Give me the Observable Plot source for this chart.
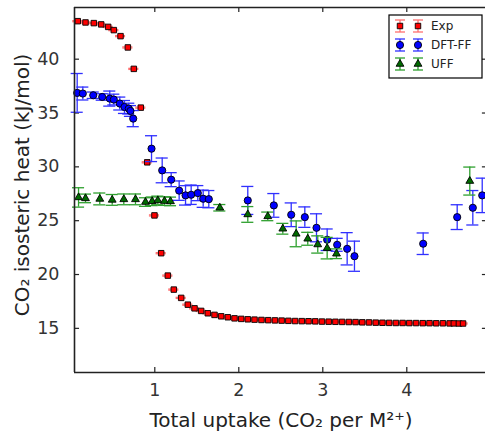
<!DOCTYPE html>
<html>
<head>
<meta charset="utf-8">
<script src="https://cdn.jsdelivr.net/npm/d3@7"></script>
<script src="https://cdn.jsdelivr.net/npm/@observablehq/plot@0.6"></script>
<style>
  html, body { margin: 0; padding: 0; background: #fff; }
  #chart svg { display: block; }
</style>
</head>
<body>
<div id="chart"></div>
<script>
// Experimental isosteric heat (red squares)
const expX = [0.083, 0.175, 0.274, 0.362, 0.445, 0.512, 0.592, 0.679, 0.750, 0.833,
  0.910, 0.996, 1.076, 1.155, 1.226, 1.314, 1.393, 1.473, 1.552, 1.631,
  1.711, 1.790, 1.869, 1.949, 2.029, 2.107, 2.187, 2.27, 2.35, 2.43,
  2.51, 2.59, 2.67, 2.75, 2.83, 2.91, 2.99, 3.07, 3.15, 3.23,
  3.31, 3.39, 3.47, 3.55, 3.63, 3.71, 3.79, 3.87, 3.95, 4.03,
  4.11, 4.19, 4.27, 4.35, 4.43, 4.51, 4.56, 4.62, 4.67];
const expY = [43.53, 43.41, 43.35, 43.23, 43.00, 42.70, 42.14, 41.09, 39.10, 35.50,
  30.42, 25.49, 21.98, 19.90, 18.60, 17.83, 17.20, 16.86, 16.62, 16.40,
  16.25, 16.12, 16.03, 15.93, 15.88, 15.84, 15.81, 15.78, 15.76, 15.74,
  15.72, 15.70, 15.68, 15.67, 15.66, 15.65, 15.63, 15.62, 15.61, 15.60,
  15.59, 15.58, 15.56, 15.55, 15.53, 15.52, 15.51, 15.50, 15.50, 15.49,
  15.49, 15.48, 15.48, 15.47, 15.47, 15.46, 15.46, 15.45, 15.45];
const expErr = 0.05;

// DFT-FF simulation (blue circles)
const dftX = [0.076, 0.143, 0.267, 0.374, 0.464, 0.512, 0.583, 0.639, 0.690, 0.710,
  0.743, 0.961, 1.088, 1.195, 1.290, 1.366, 1.433, 1.512, 1.576, 1.643,
  2.107, 2.417, 2.624, 2.786, 2.925, 3.052, 3.171, 3.290, 3.377, 4.195,
  4.600, 4.786, 4.898];
const dftY = [36.87, 36.81, 36.65, 36.49, 36.34, 36.25, 35.88, 35.56, 35.41, 35.19,
  34.48, 31.69, 29.67, 28.81, 27.79, 27.35, 27.41, 27.56, 27.04, 27.00,
  26.88, 26.42, 25.55, 25.33, 24.34, 23.23, 22.76, 22.39, 21.70, 22.86,
  25.33, 26.20, 27.35];
const dftErr = [1.8, 0.6, 0.3, 0.3, 0.7, 0.5, 0.6, 0.6, 0.5, 0.5,
  0.75, 1.2, 1.15, 0.65, 0.9, 0.9, 0.9, 0.7, 0.8, 0.8,
  1.3, 1.1, 1.1, 0.95, 1.3, 1.0, 0.6, 1.5, 1.4, 1.0,
  1.15, 1.6, 1.6];

// UFF simulation (green triangles)
const uffX = [0.092, 0.175, 0.345, 0.493, 0.631, 0.770, 0.889, 0.969, 1.036, 1.115,
  1.187, 1.774, 2.107, 2.345, 2.524, 2.683, 2.821, 2.940, 3.052, 3.163, 4.750];
const uffY = [27.16, 27.07, 27.02, 26.93, 26.98, 26.98, 26.73, 26.80, 26.88, 26.82,
  26.79, 26.20, 25.58, 25.40, 24.25, 23.78, 23.32, 22.79, 22.45, 21.93, 28.68];
const uffErr = [0.9, 0.4, 0.55, 0.5, 0.5, 0.5, 0.4, 0.4, 0.4, 0.4,
  0.4, 0.3, 0.73, 0.4, 0.5, 1.2, 0.6, 0.8, 1.0, 0.45, 1.3];

const seriesNames = ["Exp", "DFT-FF", "UFF"];
const xTicks = [1, 2, 3, 4];
const yTicks = [15, 20, 25, 30, 35, 40];

const xDomain = [0.044, 4.937];
const yDomain = [10.9, 44.8];
const xSpineRight = 4.96;

const rows = (xs, ys, errs) => xs.map((x, i) => ({x, y: ys[i], e: Array.isArray(errs) ? errs[i] : errs}));
const expRows = rows(expX, expY, expErr);
const dftRows = rows(dftX, dftY, dftErr);
const uffRows = rows(uffX, uffY, uffErr);

const styles = {
  "Exp":    {symbol: "square",   r: 3.1, fill: "#ff0000", bar: "#ff7070", cap: 0.06},
  "DFT-FF": {symbol: "circle",   r: 3.6, fill: "#0000ff", bar: "#3030ff", cap: 0.072},
  "UFF":    {symbol: "triangle", r: 2.9, fill: "#006a00", bar: "#2ea02e", cap: 0.072}
};

function errorMarks(data, st) {
  return [
    Plot.ruleX(data, {x: "x", y1: d => d.y - d.e, y2: d => d.y + d.e, stroke: st.bar, strokeWidth: 1.3}),
    Plot.ruleY(data, {y: d => d.y - d.e, x1: d => d.x - st.cap, x2: d => d.x + st.cap, stroke: st.bar, strokeWidth: 1.3}),
    Plot.ruleY(data, {y: d => d.y + d.e, x1: d => d.x - st.cap, x2: d => d.x + st.cap, stroke: st.bar, strokeWidth: 1.3}),
    Plot.dot(data, {x: "x", y: "y", symbol: st.symbol, r: st.r, fill: st.fill, stroke: "#000", strokeWidth: 0.9})
  ];
}

const tickX = 0.06;  // tick length in x units
const tickY = 0.47;  // tick length in y units
const axisColor = "#222";
const font = "DejaVu Sans, sans-serif";

const chart = Plot.plot({
  width: 485,
  height: 432,
  marginLeft: 74,
  marginRight: 0,
  marginTop: 7,
  marginBottom: 60,
  x: {domain: xDomain},
  y: {domain: yDomain},
  style: {fontFamily: font, color: "#333", background: "#fff"},
  marks: [
    Plot.axisX({ticks: xTicks, tickFormat: d3.format("d"), tickSize: 0, tickPadding: 11, fontSize: 17.5, label: null}),
    Plot.axisY({ticks: yTicks, tickFormat: d3.format("d"), tickSize: 0, tickPadding: 15, fontSize: 17.5, label: null}),
    // inward ticks on all four sides
    Plot.ruleX(xTicks, {x: d => d, y1: yDomain[0], y2: yDomain[0] + tickY, stroke: axisColor, strokeWidth: 1.2}),
    Plot.ruleX(xTicks, {x: d => d, y1: yDomain[1] - tickY, y2: yDomain[1], stroke: axisColor, strokeWidth: 1.2}),
    Plot.ruleY(yTicks, {y: d => d, x1: xDomain[0], x2: xDomain[0] + tickX, stroke: axisColor, strokeWidth: 1.2}),
    Plot.ruleY(yTicks, {y: d => d, x1: xSpineRight - tickX, x2: xSpineRight, stroke: axisColor, strokeWidth: 1.2}),
    ...errorMarks(expRows, styles["Exp"]),
    ...errorMarks(dftRows, styles["DFT-FF"]),
    ...errorMarks(uffRows, styles["UFF"]),
    // spines
    Plot.ruleX([xDomain[0]], {stroke: axisColor, strokeWidth: 1.6}),
    Plot.ruleY([yDomain[0]], {stroke: axisColor, strokeWidth: 1.6}),
    Plot.ruleY([yDomain[1]], {stroke: axisColor, strokeWidth: 1.6})
  ]
});

document.getElementById("chart").appendChild(chart);

// axis titles
const svg = d3.select(chart);
svg.append("text")
  .attr("x", 281).attr("y", 427)
  .attr("text-anchor", "middle")
  .attr("font-family", font)
  .attr("font-size", 20).attr("fill", "#222")
  .text("Total uptake (CO\u2082 per M\u00B2\u207A)");
svg.append("text")
  .attr("transform", "translate(29,185) rotate(-90)")
  .attr("text-anchor", "middle")
  .attr("font-family", font)
  .attr("font-size", 20).attr("fill", "#222")
  .text("CO\u2082 isosteric heat (kJ/mol)");

// legend box with two markers per entry
const lg = svg.append("g").attr("transform", "translate(389,15)");
lg.append("rect").attr("width", 93).attr("height", 63)
  .attr("fill", "#fff").attr("stroke", "#000").attr("stroke-width", 1.2);
const sym = {square: d3.symbolSquare, circle: d3.symbolCircle, triangle: d3.symbolTriangle};
seriesNames.forEach((name, i) => {
  const st = styles[name];
  const cy = 11 + i * 19;
  [11, 29].forEach(cx => {
    const g = lg.append("g").attr("transform", `translate(${cx},${cy})`);
    g.append("line").attr("y1", -6).attr("y2", 6).attr("stroke", st.bar).attr("stroke-width", 1.3);
    g.append("line").attr("x1", -5).attr("x2", 5).attr("y1", -6).attr("y2", -6).attr("stroke", st.bar).attr("stroke-width", 1.3);
    g.append("line").attr("x1", -5).attr("x2", 5).attr("y1", 6).attr("y2", 6).attr("stroke", st.bar).attr("stroke-width", 1.3);
    g.append("path").attr("d", d3.symbol(sym[st.symbol], Math.PI * st.r * st.r)())
      .attr("fill", st.fill).attr("stroke", "#000").attr("stroke-width", 0.9);
  });
  lg.append("text").attr("x", 42).attr("y", cy).attr("dy", "0.35em")
    .attr("text-anchor", "start")
    .attr("font-family", font).attr("font-size", 12).attr("fill", "#222")
    .text(name);
});
</script>
</body>
</html>
